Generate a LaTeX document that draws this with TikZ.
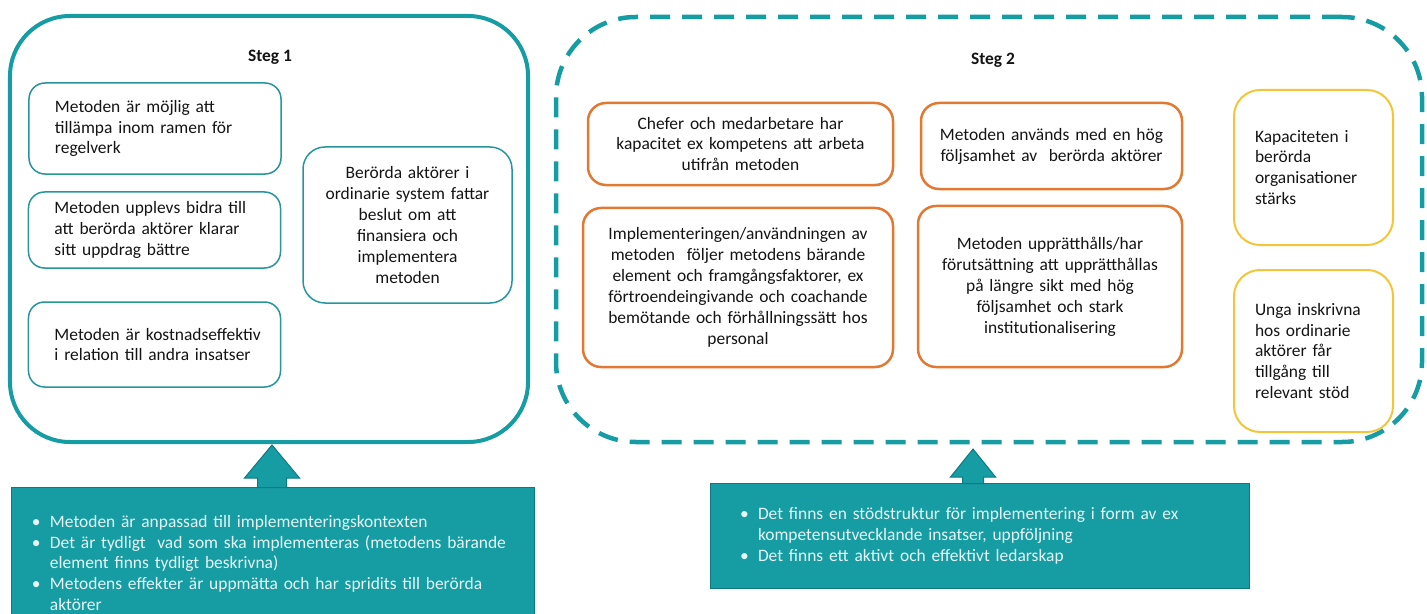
\documentclass[tikz,border=0pt]{standalone}
\usepackage{fontspec}
\setmainfont{Carlito}
\usetikzlibrary{calc}

\definecolor{stegteal}{RGB}{22,156,163}
\definecolor{lineteal}{RGB}{40,148,158}
\definecolor{darkteal}{RGB}{12,122,128}
\definecolor{boxorange}{RGB}{226,121,50}
\definecolor{boxyellow}{RGB}{243,198,58}
\definecolor{inktext}{RGB}{20,20,20}
\definecolor{paletext}{RGB}{230,245,245}

\hyphenpenalty=10000
\exhyphenpenalty=10000
\newcommand{\stodpunkt}{\makebox[18bp][l]{•}}
\newcommand{\stodhang}{\hspace*{18bp}}

\begin{document}
\begin{tikzpicture}[x=1bp,y=-1bp,
  font=\fontsize{17.5}{21}\selectfont, text=inktext,
  stegbox/.style={draw=stegteal, line width=4bp, rounded corners=60bp},
  lbox/.style={draw=lineteal, line width=1.5bp, rounded corners=16bp, align=left, text width=200bp, inner xsep=26bp},
  rbox/.style={draw=lineteal, line width=1.5bp, rounded corners=22bp, align=center, text width=191bp, inner xsep=9bp},
  obox/.style={draw=boxorange, line width=2.5bp, rounded corners=18bp, align=center, inner xsep=8bp},
  ybox/.style={draw=boxyellow, line width=2bp, rounded corners=26bp, align=left, text width=117bp, inner xsep=21bp},
  stodbox/.style={fill=stegteal, draw=darkteal, line width=1bp, text=paletext, align=left},
  upp/.style={fill=stegteal, draw=darkteal, line width=1bp}]
  \useasboundingbox (0,0) rectangle (1427,614);

  % steg 1
  \node[stegbox, minimum width=518bp, minimum height=426bp] (steg1) at (269,229) {};
  \node[font=\fontsize{17.5}{21}\selectfont\bfseries] (steg1titel) at (270,57) {Steg 1};
  \node[lbox, minimum height=91bp] (regel) at (155,128.5) {Metoden är möjlig att\\tillämpa inom ramen för\\regelverk};
  \node[lbox, minimum height=76bp] (bidra) at (154.5,230) {Metoden upplevs bidra till\\att berörda aktörer klarar\\sitt uppdrag bättre};
  \node[lbox, minimum height=85bp] (kostnad) at (154.5,344.5) {\mbox{Metoden är kostnadseffektiv}\\i relation till andra insatser};
  \node[rbox, minimum height=156bp] (beslut) at (407.5,225) {Berörda aktörer i\\ordinarie system fattar\\beslut om att\\finansiera och\\implementera\\metoden};

  % steg 2
  \node[draw=stegteal, line width=4.5bp, dash pattern=on 20bp off 12bp, rounded corners=80bp,
        minimum width=866bp, minimum height=425bp] (steg2) at (989,229.5) {};
  \node[font=\fontsize{17.5}{21}\selectfont\bfseries] (steg2titel) at (993,60) {Steg 2};
  \node[obox, text width=289bp, minimum height=82bp] (chefer) at (740.5,144) {Chefer och medarbetare har\\kapacitet ex kompetens att arbeta\\utifrån metoden};
  \node[obox, text width=245bp, minimum height=86bp] (hog) at (1051.5,146) {Metoden används med en hög\\följsamhet av\ \ berörda aktörer};
  \node[obox, text width=294bp, minimum height=159bp] (anvandning) at (738,287.5) {Implementeringen/användningen av\\metoden\ \ följer metodens bärande\\element och framgångsfaktorer, ex\\förtroendeingivande och coachande\\bemötande och förhållningssätt hos\\personal};
  \node[obox, text width=248bp, minimum height=161bp] (uppratt) at (1050,286.5) {Metoden upprätthålls/har\\förutsättning att upprätthållas\\på längre sikt med hög\\följsamhet och stark\\institutionalisering};
  \node[ybox, minimum height=155bp] (kapacitet) at (1313.5,167.5) {Kapaciteten i\\berörda\\organisationer\\stärks};
  \node[ybox, minimum height=162bp] (unga) at (1313.5,351) {Unga inskrivna\\hos ordinarie\\aktörer får\\tillgång till\\relevant stöd};

  % forutsattningar
  \node[stodbox, text width=482bp, inner xsep=20bp, minimum height=152bp] (stod1) at (273,563)
    {\stodpunkt Metoden är anpassad till implementeringskontexten\\
     \stodpunkt Det är tydligt\ \ vad som ska implementeras (metodens bärande\\
     \stodhang element finns tydligt beskrivna)\\
     \stodpunkt Metodens effekter är uppmätta och har spridits till berörda\\
     \stodhang aktörer};
  \node[stodbox, text width=479bp, inner xsep=30bp, minimum height=105bp] (stod2) at (979.5,535.5)
    {\stodpunkt Det finns en stödstruktur för implementering i form av ex\\
     \stodhang kompetensutvecklande insatser, uppföljning\\
     \stodpunkt Det finns ett aktivt och effektivt ledarskap};

  % pilar
  \coordinate (spets1) at (272,445);
  \coordinate (spets2) at (973,449);
  \filldraw[upp] (spets1) -- ++(27.5,33) -- ++(-13,0) -- ($(spets1 |- stod1.north)+(14.5,1)$)
    -- ($(spets1 |- stod1.north)+(-14.5,1)$) -- ($(spets1)+(-14.5,33)$) -- ++(-13,0) -- cycle;
  \filldraw[upp] (spets2) -- ++(22.5,28) -- ++(-12,0) -- ($(spets2 |- stod2.north)+(10.5,1)$)
    -- ($(spets2 |- stod2.north)+(-10.5,1)$) -- ($(spets2)+(-10.5,28)$) -- ++(-12,0) -- cycle;
\end{tikzpicture}
\end{document}
